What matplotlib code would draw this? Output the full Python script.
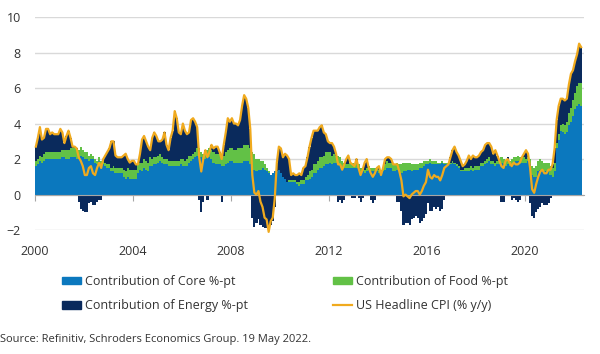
import numpy as np
import matplotlib
matplotlib.use("Agg")
import matplotlib.pyplot as plt
from matplotlib.patches import Patch
from matplotlib.lines import Line2D

plt.rcParams['font.family'] = ['Open Sans', 'DejaVu Sans']

# monthly, Jan 2000 - Apr 2022, %-pt contributions to y/y CPI
core = [
    1.6, 1.7, 1.9, 1.8, 1.9, 2.0, 2.0, 2.0, 2.0, 2.0, 2.0, 2.0,  # 2000
    2.0, 2.1, 2.1, 2.0, 2.0, 2.1, 2.1, 2.1, 2.0, 2.0, 2.2, 2.1,  # 2001
    2.0, 2.0, 1.9, 2.0, 2.0, 1.8, 1.7, 1.9, 1.7, 1.7, 1.6, 1.5,  # 2002
    1.5, 1.3, 1.3, 1.2, 1.2, 1.2, 1.2, 1.0, 0.9, 1.0, 0.9, 0.9,  # 2003
    0.9, 0.9, 1.2, 1.4, 1.3, 1.5, 1.4, 1.3, 1.6, 1.6, 1.7, 1.7,  # 2004
    1.8, 1.9, 1.8, 1.7, 1.7, 1.6, 1.6, 1.6, 1.6, 1.6, 1.6, 1.7,  # 2005
    1.6, 1.6, 1.6, 1.8, 1.9, 2.0, 2.1, 2.2, 2.3, 2.1, 2.0, 2.0,  # 2006
    2.1, 2.1, 2.0, 1.8, 1.7, 1.7, 1.7, 1.6, 1.6, 1.7, 1.8, 1.9,  # 2007
    1.9, 1.8, 1.8, 1.8, 1.8, 1.8, 1.9, 1.9, 1.9, 1.7, 1.5, 1.4,  # 2008
    1.3, 1.4, 1.4, 1.5, 1.4, 1.3, 1.2, 1.1, 1.2, 1.3, 1.3, 1.4,  # 2009
    1.2, 1.0, 0.9, 0.7, 0.7, 0.7, 0.7, 0.7, 0.6, 0.5, 0.6, 0.6,  # 2010
    0.8, 0.8, 0.9, 1.0, 1.2, 1.2, 1.4, 1.5, 1.5, 1.6, 1.7, 1.7,  # 2011
    1.8, 1.7, 1.8, 1.8, 1.8, 1.7, 1.6, 1.5, 1.5, 1.5, 1.5, 1.5,  # 2012
    1.5, 1.5, 1.5, 1.3, 1.3, 1.2, 1.3, 1.4, 1.3, 1.3, 1.3, 1.3,  # 2013
    1.2, 1.2, 1.3, 1.4, 1.5, 1.5, 1.5, 1.3, 1.3, 1.4, 1.3, 1.2,  # 2014
    1.3, 1.3, 1.4, 1.4, 1.3, 1.4, 1.4, 1.4, 1.5, 1.5, 1.6, 1.7,  # 2015
    1.7, 1.8, 1.7, 1.7, 1.7, 1.7, 1.7, 1.8, 1.7, 1.7, 1.7, 1.7,  # 2016
    1.8, 1.7, 1.6, 1.5, 1.3, 1.3, 1.3, 1.3, 1.3, 1.4, 1.3, 1.4,  # 2017
    1.4, 1.4, 1.6, 1.6, 1.7, 1.8, 1.9, 1.7, 1.7, 1.6, 1.7, 1.7,  # 2018
    1.8, 1.7, 1.6, 1.7, 1.6, 1.7, 1.8, 1.9, 1.9, 1.8, 1.8, 1.8,  # 2019
    1.8, 1.9, 1.7, 1.1, 1.0, 1.0, 1.3, 1.4, 1.4, 1.3, 1.3, 1.3,  # 2020
    1.1, 1.0, 1.3, 2.6, 3.1, 3.6, 3.5, 3.4, 3.5, 3.9, 4.1, 4.4,  # 2021
    4.8, 5.0, 5.1, 5.0,                                          # 2022
]

food = [
    0.3, 0.3, 0.3, 0.3, 0.4, 0.4, 0.4, 0.4, 0.4, 0.4, 0.4, 0.4,
    0.4, 0.4, 0.4, 0.5, 0.5, 0.5, 0.5, 0.5, 0.5, 0.5, 0.5, 0.4,
    0.4, 0.4, 0.3, 0.3, 0.2, 0.2, 0.2, 0.2, 0.2, 0.2, 0.2, 0.2,
    0.2, 0.2, 0.3, 0.3, 0.3, 0.3, 0.3, 0.4, 0.4, 0.5, 0.5, 0.5,
    0.5, 0.5, 0.5, 0.4, 0.5, 0.5, 0.5, 0.5, 0.5, 0.4, 0.4, 0.4,
    0.4, 0.4, 0.3, 0.3, 0.3, 0.3, 0.3, 0.3, 0.3, 0.3, 0.3, 0.3,
    0.4, 0.3, 0.4, 0.4, 0.3, 0.3, 0.3, 0.4, 0.3, 0.3, 0.3, 0.3,
    0.4, 0.5, 0.5, 0.6, 0.6, 0.6, 0.6, 0.6, 0.6, 0.7, 0.7, 0.7,
    0.7, 0.7, 0.7, 0.8, 0.8, 0.8, 0.9, 0.9, 0.9, 0.9, 0.9, 0.9,
    0.7, 0.6, 0.5, 0.4, 0.3, 0.2, 0.1, 0.0, 0.0, 0.0, 0.0, 0.0,
    0.0, 0.0, 0.0, 0.0, 0.1, 0.1, 0.1, 0.1, 0.1, 0.2, 0.2, 0.2,
    0.2, 0.3, 0.4, 0.4, 0.5, 0.5, 0.5, 0.6, 0.6, 0.6, 0.7, 0.7,
    0.6, 0.5, 0.5, 0.4, 0.4, 0.4, 0.3, 0.3, 0.2, 0.2, 0.3, 0.3,
    0.2, 0.2, 0.2, 0.2, 0.2, 0.2, 0.2, 0.2, 0.2, 0.2, 0.2, 0.2,
    0.2, 0.2, 0.2, 0.3, 0.4, 0.3, 0.3, 0.4, 0.4, 0.4, 0.4, 0.5,
    0.5, 0.5, 0.4, 0.4, 0.4, 0.3, 0.3, 0.3, 0.3, 0.3, 0.3, 0.2,
    0.2, 0.2, 0.2, 0.2, 0.2, 0.1, 0.1, 0.1, 0.1, 0.1, 0.1, 0.1,
    0.1, 0.1, 0.1, 0.1, 0.1, 0.1, 0.2, 0.2, 0.2, 0.2, 0.2, 0.2,
    0.2, 0.2, 0.2, 0.2, 0.2, 0.2, 0.2, 0.2, 0.2, 0.2, 0.2, 0.2,
    0.3, 0.3, 0.3, 0.3, 0.3, 0.3, 0.3, 0.2, 0.3, 0.3, 0.3, 0.3,
    0.2, 0.2, 0.3, 0.5, 0.5, 0.6, 0.6, 0.6, 0.5, 0.5, 0.5, 0.5,
    0.5, 0.5, 0.5, 0.3, 0.3, 0.3, 0.5, 0.5, 0.6, 0.7, 0.8, 0.9,
    0.9, 1.1, 1.2, 1.3,
]

energy = [
    0.8, 1.2, 1.6, 1.0, 0.9, 1.3, 1.3, 1.0, 1.1, 1.0, 1.0, 1.0,
    1.3, 1.0, 0.4, 0.8, 1.1, 0.6, 0.1, 0.1, 0.1, -0.4, -0.8, -0.9,
    -1.0, -1.0, -0.5, -0.4, -0.6, -0.6, -0.4, -0.3, -0.3, 0.1, 0.4, 0.7,
    0.9, 1.5, 1.4, 0.7, 0.6, 0.6, 0.6, 0.8, 1.0, 0.5, 0.4, 0.5,
    0.5, 0.3, 0.0, 0.5, 1.3, 1.3, 1.1, 0.9, 0.4, 1.2, 1.4, 1.2,
    0.8, 0.7, 1.0, 1.5, 0.8, 0.6, 1.3, 1.7, 2.8, 2.4, 1.6, 1.4,
    2.0, 1.7, 1.4, 1.3, 2.0, 2.0, 1.7, 1.2, -0.3, -1.0, -0.4, 0.2,
    -0.3, -0.1, 0.3, 0.2, 0.4, 0.4, 0.1, -0.4, 0.6, 1.1, 1.8, 1.5,
    1.7, 1.5, 1.5, 1.3, 1.6, 2.4, 2.8, 2.6, 2.1, 1.1, -1.3, -1.8,
    -1.6, -1.4, -1.7, -1.8, -1.9, -1.9, -2.1, -1.7, -1.5, -0.7, 0.5, 1.3,
    1.4, 1.1, 1.4, 1.5, 1.2, 0.3, 0.4, 0.3, 0.4, 0.5, 0.3, 0.7,
    0.6, 1.0, 1.4, 1.8, 1.9, 1.9, 1.7, 1.7, 1.8, 1.3, 1.0, 0.6,
    0.5, 0.7, 0.4, 0.1, -0.4, -0.3, -0.5, -0.3, 0.3, 0.5, 0.0, -0.2,
    -0.2, 0.3, -0.2, -0.4, -0.2, 0.4, 0.5, -0.1, -0.3, -0.5, -0.3, 0.0,
    0.2, -0.1, 0.0, 0.3, 0.2, 0.3, 0.2, 0.0, 0.0, -0.4, -0.4, -0.9,
    -1.7, -1.6, -1.6, -1.7, -1.4, -1.3, -1.2, -1.3, -1.6, -1.5, -1.3, -1.1,
    -0.5, -0.9, -0.9, -0.7, -0.8, -0.7, -0.9, -0.8, -0.3, -0.1, 0.0, 0.3,
    0.6, 0.9, 0.7, 0.6, 0.5, 0.2, 0.2, 0.4, 0.7, 0.4, 0.7, 0.5,
    0.5, 0.6, 0.6, 0.7, 0.9, 0.9, 0.8, 0.8, 0.4, 0.7, 0.3, 0.0,
    -0.4, -0.4, 0.0, 0.1, -0.1, -0.3, -0.2, -0.3, -0.4, -0.3, 0.0, 0.2,
    0.5, 0.2, -0.5, -1.2, -1.3, -1.0, -0.8, -0.7, -0.5, -0.6, -0.6, -0.5,
    -0.2, 0.2, 0.8, 1.3, 1.6, 1.5, 1.4, 1.4, 1.3, 1.6, 1.9, 1.7,
    1.8, 1.8, 2.2, 2.0,
]

headline = [
    2.7, 3.2, 3.8, 3.1, 3.2, 3.7, 3.7, 3.4, 3.5, 3.4, 3.4, 3.4,
    3.7, 3.5, 2.9, 3.3, 3.6, 3.2, 2.7, 2.7, 2.6, 2.1, 1.9, 1.6,
    1.1, 1.1, 1.5, 1.6, 1.2, 1.1, 1.5, 1.8, 1.5, 2.0, 2.2, 2.4,
    2.6, 3.0, 3.0, 2.2, 2.1, 2.1, 2.1, 2.2, 2.3, 2.0, 1.8, 1.9,
    1.9, 1.7, 1.7, 2.3, 3.1, 3.3, 3.0, 2.7, 2.5, 3.2, 3.5, 3.3,
    3.0, 3.0, 3.1, 3.5, 2.8, 2.5, 3.2, 3.6, 4.7, 4.3, 3.5, 3.4,
    4.0, 3.6, 3.4, 3.5, 4.2, 4.3, 4.1, 3.8, 2.1, 1.3, 2.0, 2.5,
    2.1, 2.4, 2.8, 2.6, 2.7, 2.7, 2.4, 2.0, 2.8, 3.5, 4.3, 4.1,
    4.3, 4.0, 4.0, 3.9, 4.2, 5.0, 5.6, 5.4, 4.9, 3.7, 1.1, 0.1,
    0.0, 0.2, -0.4, -0.7, -1.3, -1.4, -2.1, -1.5, -1.3, -0.2, 1.8, 2.7,
    2.6, 2.1, 2.3, 2.2, 2.0, 1.1, 1.2, 1.1, 1.1, 1.2, 1.1, 1.5,
    1.6, 2.1, 2.7, 3.2, 3.6, 3.6, 3.6, 3.8, 3.9, 3.5, 3.4, 3.0,
    2.9, 2.9, 2.7, 2.3, 1.7, 1.7, 1.4, 1.7, 2.0, 2.2, 1.8, 1.7,
    1.6, 2.0, 1.5, 1.1, 1.4, 1.8, 2.0, 1.5, 1.2, 1.0, 1.2, 1.5,
    1.6, 1.1, 1.5, 2.0, 2.1, 2.1, 2.0, 1.7, 1.7, 1.7, 1.3, 0.8,
    -0.1, 0.0, -0.1, -0.2, 0.0, 0.1, 0.2, 0.2, 0.0, 0.2, 0.5, 0.7,
    1.4, 1.0, 0.9, 1.1, 1.0, 1.0, 0.8, 1.1, 1.5, 1.6, 1.7, 2.1,
    2.5, 2.7, 2.4, 2.2, 1.9, 1.6, 1.7, 1.9, 2.2, 2.0, 2.2, 2.1,
    2.1, 2.2, 2.4, 2.5, 2.8, 2.9, 2.9, 2.7, 2.3, 2.5, 2.2, 1.9,
    1.6, 1.5, 1.9, 2.0, 1.8, 1.6, 1.8, 1.7, 1.7, 1.8, 2.1, 2.3,
    2.5, 2.3, 1.5, 0.3, 0.1, 0.6, 1.0, 1.3, 1.4, 1.2, 1.2, 1.4,
    1.4, 1.7, 2.6, 4.2, 5.0, 5.4, 5.4, 5.3, 5.4, 6.2, 6.8, 7.0,
    7.5, 7.9, 8.5, 8.3,
]

year_ticks = [2000, 2004, 2008, 2012, 2016, 2020]

c_core = '#0b78be'
c_food = '#62c146'
c_energy = '#0a2a5c'
c_cpi = '#f0aa1e'
c_text = '#333333'

core = np.array(core)
food = np.array(food)
energy = np.array(energy)
headline = np.array(headline)
x = 2000 + np.arange(len(core)) / 12.0

fig = plt.figure(figsize=(6, 3.54), dpi=100)
ax = fig.add_axes([0.058, 0.350, 0.915, 0.602])

w = 1 / 12.0
ax.bar(x, core, width=w * 1.05, align='edge', color=c_core, linewidth=0)
ax.bar(x, food, bottom=core, width=w * 1.05, align='edge', color=c_food, linewidth=0)
e_bottom = np.where(energy >= 0, core + food, 0)
ax.bar(x, energy, bottom=e_bottom, width=w * 1.05, align='edge', color=c_energy, linewidth=0)
ax.plot(x + w / 2, headline, color=c_cpi, linewidth=1.6, clip_on=False, zorder=5)

ax.set_xlim(2000, 2022.4)
ax.set_ylim(-2, 10)
ax.set_yticks(range(-2, 11, 2))
ax.yaxis.grid(True, color='#d9d9d9', linewidth=1)
ax.set_axisbelow(True)
for s in ['top', 'right', 'left']:
    ax.spines[s].set_visible(False)
ax.spines['bottom'].set_position(('data', 0))
ax.spines['bottom'].set_color('#a6a6a6')
ax.spines['bottom'].set_zorder(4)
ax.set_xticks(year_ticks)
ax.set_xticklabels([str(y) for y in year_ticks])
ax.tick_params(axis='x', length=4, color='#a6a6a6', pad=32, labelsize=9, labelcolor=c_text)
ax.tick_params(axis='y', length=0, pad=10, labelsize=9, labelcolor=c_text)

handles = [
    Patch(color=c_core, label='Contribution of Core %-pt'),
    Patch(color=c_energy, label='Contribution of Energy %-pt'),
    Patch(color=c_food, label='Contribution of Food %-pt'),
    Line2D([], [], color=c_cpi, linewidth=1.6, label='US Headline CPI (% y/y)'),
]
fig.legend(handles=handles, ncol=2, loc='upper left', bbox_to_anchor=(0.085, 0.255),
           frameon=False, fontsize=9, labelcolor=c_text, handlelength=1.5,
           handleheight=0.55, columnspacing=6.8, labelspacing=0.9, handletextpad=0.35)

fig.text(0.0, 0.035, 'Source: Refinitiv, Schroders Economics Group. 19 May 2022.',
         fontsize=8, color=c_text)

fig.savefig('out.png', dpi=100)
